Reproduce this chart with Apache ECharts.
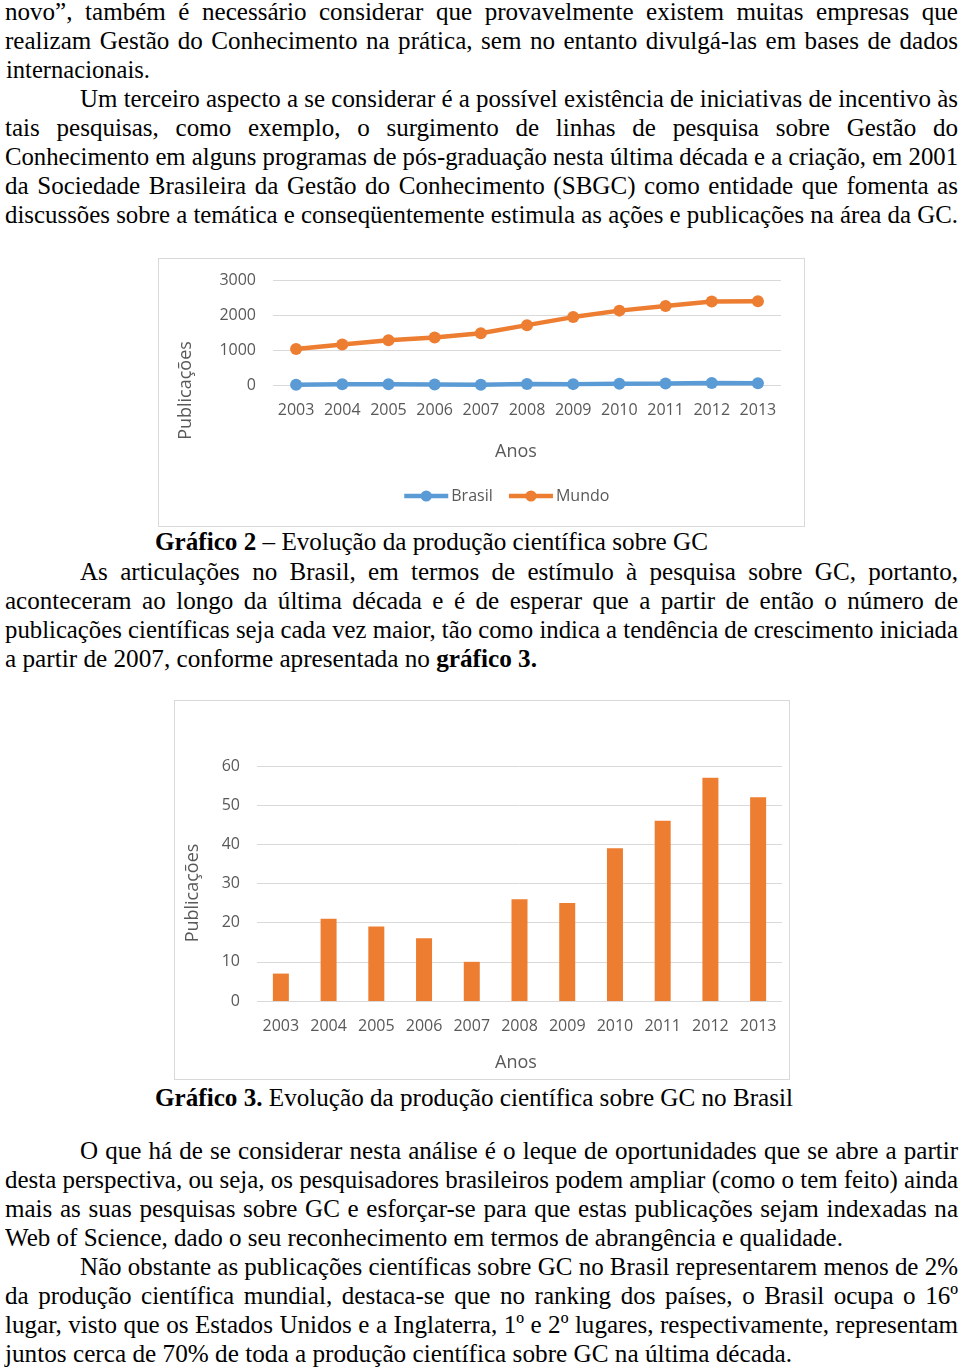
<!DOCTYPE html>
<html>
<head>
<meta charset="utf-8">
<script src="https://cdn.jsdelivr.net/npm/echarts@6/dist/echarts.min.js"></script>
<style>
  html, body { margin:0; padding:0; background:#fff; }
  #page { position:relative; width:960px; height:1367px; background:#fff; overflow:hidden; }
  .ln { position:absolute; height:29px; line-height:29px; font-family:"Liberation Serif","Times New Roman",Times,serif; font-size:26px; color:#000; white-space:nowrap; }
  .ln span { display:inline-block; transform-origin:0 0; white-space:nowrap; }
  .box { position:absolute; box-sizing:border-box; border:1px solid #d9d9d9; background:#fff; }
</style>
</head>
<body>
<div id="page">
  <div id="c1" class="box" style="left:158px;top:258px;width:647px;height:269px;"></div>
  <div id="c2" class="box" style="left:174px;top:700px;width:616px;height:380px;"></div>
</div>
<script>
// ---- chart data ----
const years = ['2003','2004','2005','2006','2007','2008','2009','2010','2011','2012','2013'];
const brasil = [7, 21, 19, 16, 10, 26, 25, 39, 46, 57, 52];
const mundo = [1030, 1155, 1280, 1355, 1480, 1710, 1940, 2125, 2260, 2385, 2395];
const seriesNames = ['Brasil', 'Mundo'];
const xTitle = 'Anos';
const yTitle = 'Publicações';

// ---- page text (top, x0, x1, mode, html) ----
const lines = [
 [-3.3, 5, 958, 'j', 'novo”, também é necessário considerar que provavelmente existem muitas empresas que'],
 [25.7, 5, 958, 'j', 'realizam Gestão do Conhecimento na prática, sem no entanto divulgá-las em bases de dados'],
 [54.7, 6, 150, 'l', 'internacionais.'],
 [83.7, 80, 958, 'j', 'Um terceiro aspecto a se considerar é a possível existência de iniciativas de incentivo às'],
 [112.7, 5, 958, 'j', 'tais pesquisas, como exemplo, o surgimento de linhas de pesquisa sobre Gestão do'],
 [141.7, 5, 958, 'j', 'Conhecimento em alguns programas de pós-graduação nesta última década e a criação, em 2001'],
 [170.7, 5, 958, 'j', 'da Sociedade Brasileira da Gestão do Conhecimento (SBGC) como entidade que fomenta as'],
 [199.7, 5, 958, 'j', 'discussões sobre a temática e conseqüentemente estimula as ações e publicações na área da GC.'],
 [526.7, 155, 708, 'l', '<b>Gráfico 2</b> – Evolução da produção científica sobre GC'],
 [556.7, 80, 958, 'j', 'As articulações no Brasil, em termos de estímulo à pesquisa sobre GC, portanto,'],
 [585.7, 5, 958, 'j', 'aconteceram ao longo da última década e é de esperar que a partir de então o número de'],
 [614.7, 5, 958, 'j', 'publicações científicas seja cada vez maior, tão como indica a tendência de crescimento iniciada'],
 [643.7, 5, 537, 'l', 'a partir de 2007, conforme apresentada no <b>gráfico 3.</b>'],
 [1082.7, 155, 793, 'l', '<b>Gráfico 3.</b> Evolução da produção científica sobre GC no Brasil'],
 [1135.7, 80, 958, 'j', 'O que há de se considerar nesta análise é o leque de oportunidades que se abre a partir'],
 [1164.7, 5, 958, 'j', 'desta perspectiva, ou seja, os pesquisadores brasileiros podem ampliar (como o tem feito) ainda'],
 [1193.7, 5, 958, 'j', 'mais as suas pesquisas sobre GC e esforçar-se para que estas publicações sejam indexadas na'],
 [1222.7, 5, 843, 'l', 'Web of Science, dado o seu reconhecimento em termos de abrangência e qualidade.'],
 [1251.7, 80, 958, 'j', 'Não obstante as publicações científicas sobre GC no Brasil representarem menos de 2%'],
 [1280.7, 5, 958, 'j', 'da produção científica mundial, destaca-se que no ranking dos países, o Brasil ocupa o 16º'],
 [1309.7, 5, 958, 'j', 'lugar, visto que os Estados Unidos e a Inglaterra, 1º e 2º lugares, respectivamente, representam'],
 [1338.7, 5, 792, 'l', 'juntos cerca de 70% de toda a produção científica sobre GC na última década.']
];

const page = document.getElementById('page');
const spans = [];
lines.forEach(function (L) {
  const d = document.createElement('div');
  d.className = 'ln';
  d.style.top = L[0] + 'px';
  d.style.left = L[1] + 'px';
  const s = document.createElement('span');
  s.innerHTML = L[4];
  d.appendChild(s);
  page.appendChild(d);
  spans.push([s, L]);
});
function fitText() {
  let acc = 0, n = 0;
  spans.forEach(function (p) {
    const s = p[0], L = p[1];
    s.style.transform = ''; s.style.wordSpacing = '';
    const w = s.getBoundingClientRect().width;
    p.w = w;
    if (L[3] === 'l') { acc += (L[2] - L[1]) / w; n++; }
  });
  const sg = n ? acc / n : 1;
  spans.forEach(function (p) {
    const s = p[0], L = p[1], W = L[2] - L[1], w = p.w;
    if (L[3] === 'l') {
      s.style.transform = 'scaleX(' + (W / w) + ')';
    } else {
      const nsp = (s.textContent.match(/ /g) || []).length;
      if (w * sg <= W && nsp > 0) {
        s.style.wordSpacing = ((W / sg - w) / nsp) + 'px';
        s.style.transform = 'scaleX(' + sg + ')';
      } else {
        s.style.transform = 'scaleX(' + (W / w) + ')';
      }
    }
  });
}
fitText();
if (document.fonts && document.fonts.ready) document.fonts.ready.then(fitText);

// ---- charts ----
const axisFont = 'Open Sans';
const grey = '#595959';
const gridCol = '#d9d9d9';
const plainNum = function (v) { return String(v); };

const chart1 = echarts.init(document.getElementById('c1'), null, { renderer: 'canvas' });
chart1.setOption({
  animation: false,
  textStyle: { fontFamily: axisFont },
  grid: { left: 114, top: 21, width: 508, height: 105 },
  legend: {
    data: seriesNames, left: 243, top: 229, padding: 0, itemGap: 14,
    itemWidth: 44, itemHeight: 14,
    lineStyle: { width: 4.5 },
    textStyle: { fontSize: 16, color: grey, fontFamily: axisFont, padding: [0, 0, 0, -2] }
  },
  xAxis: {
    type: 'category', data: years, boundaryGap: true,
    axisLine: { show: false }, axisTick: { show: false },
    axisLabel: { interval: 0, margin: 17, fontSize: 16, color: grey, fontFamily: axisFont },
    name: xTitle, nameLocation: 'middle', nameGap: 58,
    nameTextStyle: { fontSize: 18, color: grey, fontFamily: axisFont, padding: [0, 22, 0, 0] }
  },
  yAxis: {
    type: 'value', min: 0, max: 3000, interval: 1000,
    axisLine: { show: false }, axisTick: { show: false },
    axisLabel: { margin: 17, fontSize: 16, color: grey, fontFamily: axisFont, formatter: plainNum },
    splitLine: { lineStyle: { color: gridCol, width: 1 } },
    name: yTitle, nameLocation: 'middle', nameGap: 78,
    nameTextStyle: { fontSize: 18, color: grey, fontFamily: axisFont, padding: [0, 116, 0, 0] }
  },
  series: [
    { name: seriesNames[0], type: 'line', data: brasil, symbol: 'circle', symbolSize: 12,
      itemStyle: { color: '#5b9bd5' }, lineStyle: { color: '#5b9bd5', width: 4.5 } },
    { name: seriesNames[1], type: 'line', data: mundo, symbol: 'circle', symbolSize: 12,
      itemStyle: { color: '#ed7d31' }, lineStyle: { color: '#ed7d31', width: 4.5 } }
  ]
});

const chart2 = echarts.init(document.getElementById('c2'), null, { renderer: 'canvas' });
chart2.setOption({
  animation: false,
  textStyle: { fontFamily: axisFont },
  grid: { left: 82, top: 65, width: 525, height: 235 },
  xAxis: {
    type: 'category', data: years, boundaryGap: true,
    axisLine: { show: false }, axisTick: { show: false },
    axisLabel: { interval: 0, margin: 17, fontSize: 16, color: grey, fontFamily: axisFont },
    name: xTitle, nameLocation: 'middle', nameGap: 53,
    nameTextStyle: { fontSize: 18, color: grey, fontFamily: axisFont, padding: [0, 7, 0, 0] }
  },
  yAxis: {
    type: 'value', min: 0, max: 60, interval: 10,
    axisLine: { show: false }, axisTick: { show: false },
    axisLabel: { margin: 17, fontSize: 16, color: grey, fontFamily: axisFont, formatter: plainNum },
    splitLine: { lineStyle: { color: gridCol, width: 1 } },
    name: yTitle, nameLocation: 'middle', nameGap: 55,
    nameTextStyle: { fontSize: 18, color: grey, fontFamily: axisFont, padding: [0, 19, 0, 0] }
  },
  series: [
    { name: seriesNames[0], type: 'bar', data: brasil, barWidth: 16,
      itemStyle: { color: '#ed7d31' } }
  ]
});
</script>
</body>
</html>
